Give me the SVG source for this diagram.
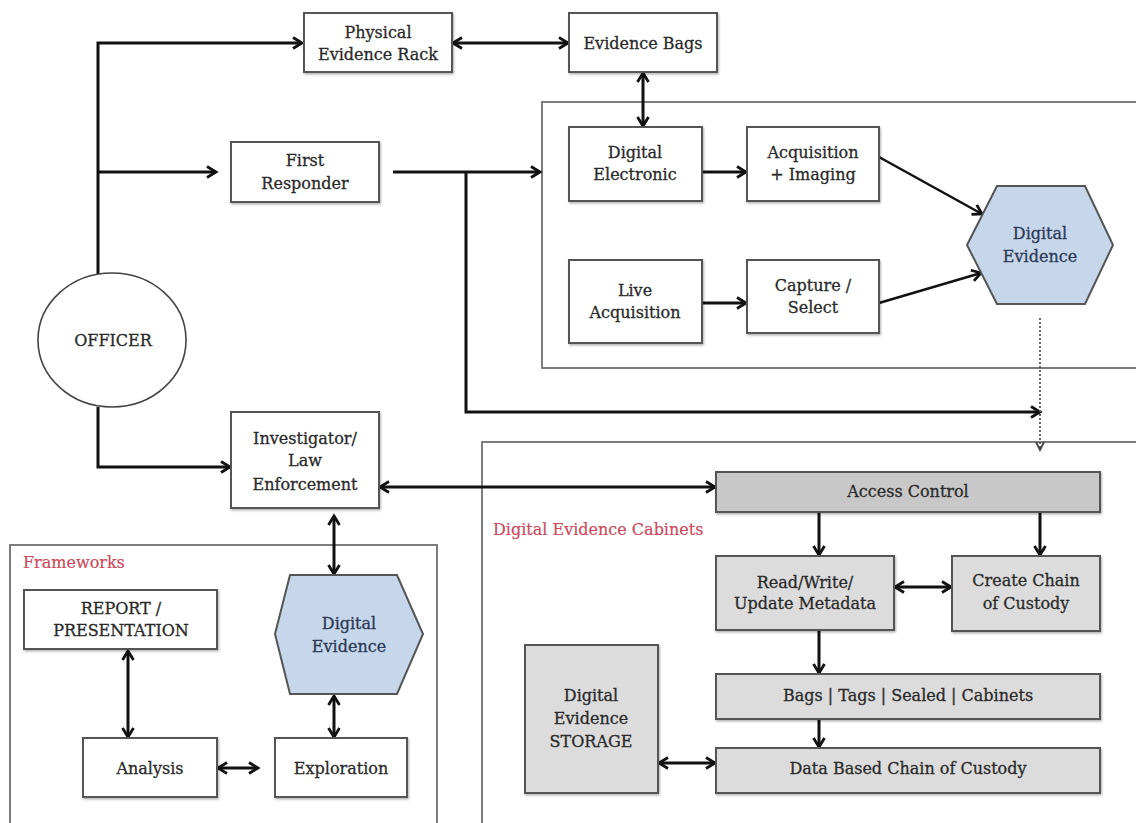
<svg xmlns="http://www.w3.org/2000/svg" width="1136" height="823" viewBox="0 0 1136 823">
<defs>
<style>
.box{fill:#ffffff;stroke:#555;stroke-width:2;filter:url(#sh)}
.gbox{fill:#dcdcdc;stroke:#555;stroke-width:2;filter:url(#sh)}
.dbox{fill:#c8c8c8;stroke:#555;stroke-width:2;filter:url(#sh)}
.hex{fill:#c7d7eb;stroke:#555;stroke-width:2}
.frame{fill:none;stroke:#6f6f6f;stroke-width:1.8}
.t{font-family:"DejaVu Serif","Liberation Serif",serif;font-size:16px;fill:#2a2a2a;stroke:#2a2a2a;stroke-width:0.3;text-anchor:middle}
.th{font-family:"DejaVu Serif","Liberation Serif",serif;font-size:16px;fill:#2b3a55;stroke:#2b3a55;stroke-width:0.3;text-anchor:middle}
.lbl{font-family:"DejaVu Serif","Liberation Serif",serif;font-size:16px;fill:#cc4a5c;stroke:#cc4a5c;stroke-width:0.2}
.c{fill:none;stroke:#111;stroke-width:3}
.c2{fill:none;stroke:#111;stroke-width:2.5}
.dot{fill:none;stroke:#555;stroke-width:1.8;stroke-dasharray:2 2}
</style>
<filter id="sh" x="-5%" y="-5%" width="115%" height="120%">
<feDropShadow dx="1" dy="1.5" stdDeviation="1" flood-color="#000" flood-opacity="0.3"/>
</filter>
<marker id="a" markerUnits="userSpaceOnUse" markerWidth="16" markerHeight="16" viewBox="0 0 16 16" refX="13" refY="8" orient="auto-start-reverse">
<path d="M4,2.5 L13,8 L4,13.5" fill="none" stroke="#111" stroke-width="2.8"/>
</marker>
<marker id="ad" markerUnits="userSpaceOnUse" markerWidth="14" markerHeight="14" viewBox="0 0 14 14" refX="11" refY="7" orient="auto">
<path d="M3,3 L11,7 L3,11" fill="none" stroke="#444" stroke-width="1.8"/>
</marker>
</defs>
<rect width="1136" height="823" fill="#fff"/>

<g id="frames">
<rect class="frame" x="542" y="102" width="600" height="266"/>
<rect class="frame" x="482" y="442" width="660" height="390"/>
<rect class="frame" x="10" y="545" width="427" height="290"/>
<text class="lbl" x="493" y="535">Digital Evidence Cabinets</text>
<text class="lbl" x="23" y="568">Frameworks</text>
</g>

<g id="connectors">
<path class="c" d="M98,274 V43 H302" marker-end="url(#a)"/>
<path class="c" d="M98,172 H216" marker-end="url(#a)"/>
<path class="c" d="M98,407 V467 H230" marker-end="url(#a)"/>
<path class="c" d="M453,43 H568" marker-start="url(#a)" marker-end="url(#a)"/>
<path class="c" d="M643,73 V126" marker-start="url(#a)" marker-end="url(#a)"/>
<path class="c" d="M393,172 H540" marker-end="url(#a)"/>
<path class="c" d="M466,172 V412 H1040" marker-end="url(#a)"/>
<path class="c" d="M702,172 H746" marker-end="url(#a)"/>
<path class="c" d="M702,303 H746" marker-end="url(#a)"/>
<path class="c2" d="M879,157 L982,214" marker-end="url(#a)"/>
<path class="c2" d="M879,303 L981,273" marker-end="url(#a)"/>
<path class="dot" d="M1040,318 V450" marker-end="url(#ad)"/>
<path class="c" d="M380,487 H715" marker-start="url(#a)" marker-end="url(#a)"/>
<path class="c" d="M334,516 V574" marker-start="url(#a)" marker-end="url(#a)"/>
<path class="c" d="M819,513 V555" marker-end="url(#a)"/>
<path class="c" d="M1040,513 V555" marker-end="url(#a)"/>
<path class="c" d="M895,587 H951" marker-start="url(#a)" marker-end="url(#a)"/>
<path class="c" d="M819,631 V673" marker-end="url(#a)"/>
<path class="c" d="M819,720 V747" marker-end="url(#a)"/>
<path class="c" d="M659,763 H715" marker-start="url(#a)" marker-end="url(#a)"/>
<path class="c" d="M128,651 V737" marker-start="url(#a)" marker-end="url(#a)"/>
<path class="c" d="M334,696 V737" marker-start="url(#a)" marker-end="url(#a)"/>
<path class="c" d="M218,768 H258" marker-start="url(#a)" marker-end="url(#a)"/>
</g>

<g id="officer">
<ellipse cx="112" cy="340" rx="74" ry="67" fill="#fff" stroke="#444" stroke-width="1.6"/>
<text class="t" x="113" y="346">OFFICER</text>
</g>
<g id="physical-evidence-rack">
<rect class="box" x="304" y="13" width="148" height="59"/>
<text class="t" x="378" y="38">Physical</text>
<text class="t" x="378" y="60">Evidence Rack</text>
</g>
<g id="evidence-bags">
<rect class="box" x="569" y="13" width="148" height="59"/>
<text class="t" x="643" y="49">Evidence Bags</text>
</g>
<g id="first-responder">
<rect class="box" x="231" y="142" width="148" height="60"/>
<text class="t" x="305" y="166">First</text>
<text class="t" x="305" y="189">Responder</text>
</g>
<g id="digital-electronic">
<rect class="box" x="569" y="127" width="133" height="74"/>
<text class="t" x="635" y="158">Digital</text>
<text class="t" x="635" y="180">Electronic</text>
</g>
<g id="acquisition-imaging">
<rect class="box" x="747" y="127" width="132" height="74"/>
<text class="t" x="813" y="158">Acquisition</text>
<text class="t" x="813" y="180">+ Imaging</text>
</g>
<g id="live-acquisition">
<rect class="box" x="569" y="260" width="133" height="83"/>
<text class="t" x="635" y="296">Live</text>
<text class="t" x="635" y="318">Acquisition</text>
</g>
<g id="capture-select">
<rect class="box" x="747" y="260" width="132" height="73"/>
<text class="t" x="813" y="291">Capture /</text>
<text class="t" x="813" y="313">Select</text>
</g>
<g id="digital-evidence-1">
<polygon class="hex" points="967,245 997,186 1085,186 1113,245 1085,304 997,304"/>
<text class="th" x="1040" y="239">Digital</text>
<text class="th" x="1040" y="262">Evidence</text>
</g>
<g id="investigator">
<rect class="box" x="231" y="412" width="148" height="96"/>
<text class="t" x="305" y="444">Investigator/</text>
<text class="t" x="305" y="466">Law</text>
<text class="t" x="305" y="490">Enforcement</text>
</g>
<g id="access-control">
<rect class="dbox" x="716" y="472" width="384" height="40"/>
<text class="t" x="908" y="497">Access Control</text>
</g>
<g id="read-write-update">
<rect class="gbox" x="716" y="556" width="178" height="74"/>
<text class="t" x="805" y="588">Read/Write/</text>
<text class="t" x="805" y="609">Update Metadata</text>
</g>
<g id="create-chain">
<rect class="gbox" x="952" y="556" width="148" height="75"/>
<text class="t" x="1026" y="586">Create Chain</text>
<text class="t" x="1026" y="609">of Custody</text>
</g>
<g id="bags-tags">
<rect class="gbox" x="716" y="674" width="384" height="45"/>
<text class="t" x="908" y="701">Bags | Tags | Sealed | Cabinets</text>
</g>
<g id="data-based">
<rect class="gbox" x="716" y="748" width="384" height="45"/>
<text class="t" x="908" y="774">Data Based Chain of Custody</text>
</g>
<g id="storage">
<rect class="gbox" x="525" y="645" width="133" height="148"/>
<text class="t" x="591" y="701">Digital</text>
<text class="t" x="591" y="724">Evidence</text>
<text class="t" x="591" y="747">STORAGE</text>
</g>
<g id="report">
<rect class="box" x="24" y="590" width="193" height="59"/>
<text class="t" x="121" y="614">REPORT /</text>
<text class="t" x="121" y="636">PRESENTATION</text>
</g>
<g id="digital-evidence-2">
<polygon class="hex" points="275,634 290,575 397,575 423,634 397,694 290,694"/>
<text class="th" x="349" y="629">Digital</text>
<text class="th" x="349" y="652">Evidence</text>
</g>
<g id="analysis">
<rect class="box" x="83" y="738" width="134" height="59"/>
<text class="t" x="150" y="774">Analysis</text>
</g>
<g id="exploration">
<rect class="box" x="275" y="738" width="132" height="59"/>
<text class="t" x="341" y="774">Exploration</text>
</g>
</svg>
